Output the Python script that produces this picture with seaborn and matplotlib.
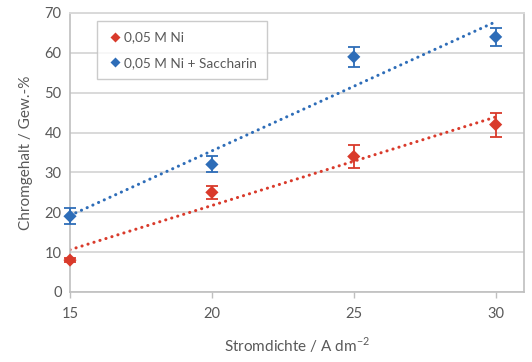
import numpy as np
import pandas as pd
import matplotlib
matplotlib.use("Agg")
import matplotlib.pyplot as plt
import seaborn as sns

# Data
stromdichte = [15, 20, 25, 30]
ni_values = [8, 25, 34, 42]
ni_err = [0.5, 1.6, 2.8, 3.0]
sac_values = [19, 32, 59, 64]
sac_err = [2.0, 2.0, 2.5, 2.2]
series_names = ["0,05 M Ni", "0,05 M Ni + Saccharin"]
x_ticks = [15, 20, 25, 30]
y_ticks = [0, 10, 20, 30, 40, 50, 60, 70]

red = "#D93A2B"
blue = "#2E6DB8"
txt = "#595959"
grid_c = "#D9D9D9"

sns.set_theme(style="white")
plt.rcParams['font.family'] = ['Lato', 'DejaVu Sans']

fig = plt.figure(figsize=(5.32, 3.62), dpi=100)
ax = fig.add_axes([0.1316, 0.1934, 0.8534, 0.7707])

df = pd.DataFrame({
    "x": stromdichte * 2,
    "y": ni_values + sac_values,
    "serie": [series_names[0]] * 4 + [series_names[1]] * 4,
})

# trend lines (linear fit)
for vals, col in [(ni_values, red), (sac_values, blue)]:
    k, d = np.polyfit(stromdichte, vals, 1)
    xs = np.array([stromdichte[0], stromdichte[-1]])
    sns.lineplot(x=xs, y=k * xs + d, ax=ax, color=col, linestyle=(0, (0.05, 2.0)),
                 linewidth=2.2, legend=False, zorder=2)
for line in ax.get_lines():
    line.set_dash_capstyle('round')

# error bars
for vals, err, col in [(ni_values, ni_err, red), (sac_values, sac_err, blue)]:
    eb = ax.errorbar(stromdichte, vals, yerr=err, fmt='none', ecolor=col,
                     elinewidth=1.3, capsize=4, capthick=1.3, zorder=3)
    for art in eb.get_children():
        art.set_clip_on(False)

sns.scatterplot(data=df, x="x", y="y", hue="serie", palette=[red, blue],
                marker="D", s=45, edgecolor="none", ax=ax, zorder=4, clip_on=False)

ax.set_xlim(15, 31)
ax.set_ylim(0, 70)
ax.set_xticks(x_ticks)
ax.set_yticks(y_ticks)
ax.yaxis.grid(True, color=grid_c, linewidth=1.4)
ax.set_axisbelow(True)
for s in ["left", "bottom", "right"]:
    ax.spines[s].set_color("#BFBFBF")
    ax.spines[s].set_linewidth(1.2)
ax.spines["top"].set_color(grid_c)
ax.spines["top"].set_linewidth(1.4)
ax.tick_params(axis='x', length=4, width=1, color="#BFBFBF", colors=txt,
               labelsize=10.5, pad=7, bottom=True)
ax.tick_params(axis='y', length=0, colors=txt, labelsize=10.5, pad=6)
for lab in ax.get_xticklabels() + ax.get_yticklabels():
    lab.set_color(txt)

ax.set_xlabel("Stromdichte / A dm$^{\\mathregular{-2}}$", color=txt, fontsize=11, labelpad=10)
ax.set_ylabel("Chromgehalt / Gew.-%", color=txt, fontsize=11, labelpad=8)

leg = ax.legend(loc="upper left", bbox_to_anchor=(0.0595, 0.971), borderaxespad=0,
                frameon=True, fancybox=False, edgecolor="#BFBFBF", fontsize=9.8,
                handletextpad=0.0, handlelength=1.2, borderpad=0.75, labelspacing=1.0,
                markerscale=0.8)
leg.get_frame().set_linewidth(1.0)
for t in leg.get_texts():
    t.set_color(txt)

fig.savefig("out.png", dpi=100)
